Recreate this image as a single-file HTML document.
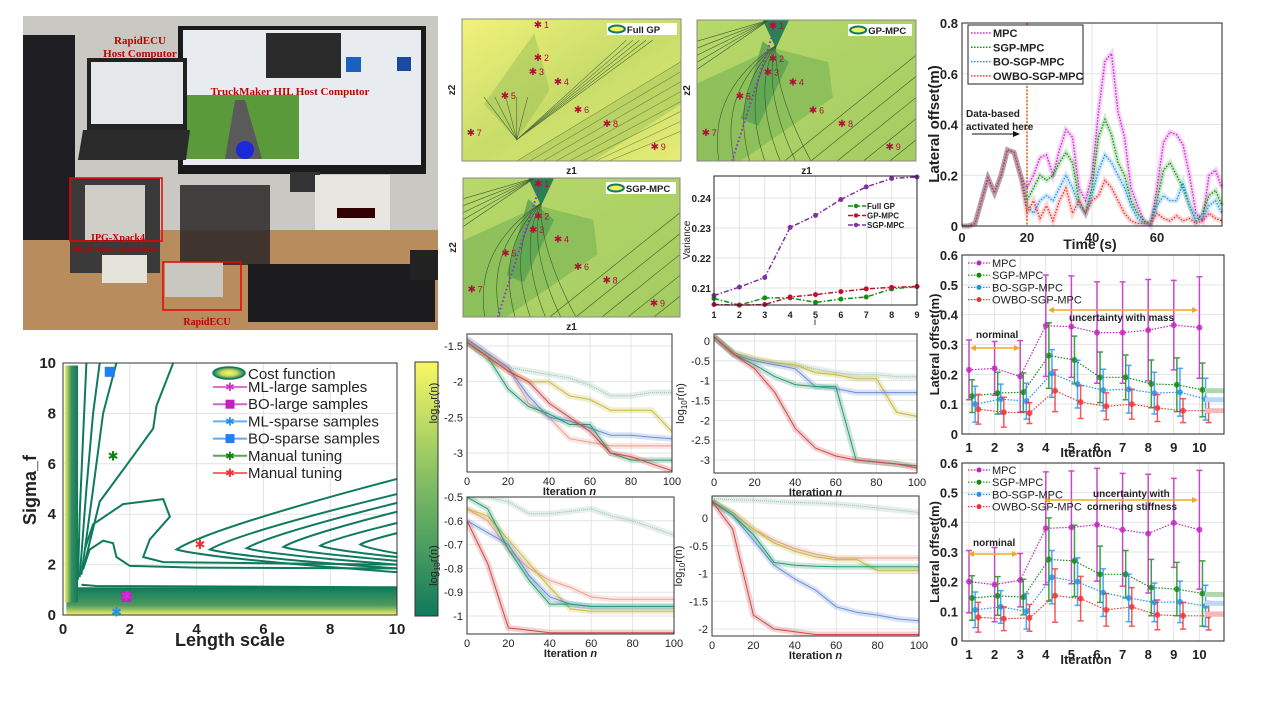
<!DOCTYPE html>
<html><head><meta charset="utf-8"><style>
html,body{margin:0;padding:0;background:#fff;}
svg{display:block;font-family:"Liberation Sans",sans-serif;}
</style></head><body>
<svg id="fig" width="1280" height="720" viewBox="0 0 1280 720" xmlns="http://www.w3.org/2000/svg">
<defs>
<linearGradient id="gBand" x1="0" y1="1" x2="0" y2="0"><stop offset="0" stop-color="#f4f46a"/><stop offset="0.35" stop-color="#4f9a60"/><stop offset="1" stop-color="#0d7a5a"/></linearGradient>
<linearGradient id="gVBand" x1="0" y1="0" x2="1" y2="0"><stop offset="0" stop-color="#f4f46a"/><stop offset="0.5" stop-color="#3a9060"/><stop offset="1" stop-color="#0d7a5a"/></linearGradient>
<linearGradient id="gCbar" x1="0" y1="1" x2="0" y2="0"><stop offset="0" stop-color="#0f7a5c"/><stop offset="0.5" stop-color="#7cba64"/><stop offset="1" stop-color="#f8f864"/></linearGradient>
<linearGradient id="gA" x1="0" y1="0" x2="1" y2="1"><stop offset="0" stop-color="#f2f27a"/><stop offset="0.5" stop-color="#c8dc6a"/><stop offset="1" stop-color="#e4ec74"/></linearGradient>
<linearGradient id="gB" x1="0" y1="0" x2="1" y2="1"><stop offset="0" stop-color="#b8d86a"/><stop offset="1" stop-color="#a4cc62"/></linearGradient>
<radialGradient id="gEll"><stop offset="0" stop-color="#f8f860"/><stop offset="0.5" stop-color="#c8d860"/><stop offset="1" stop-color="#107a5a"/></radialGradient>
</defs>

<!-- PHOTO -->
<g>
<rect x="23" y="16" width="415" height="314" fill="#c9c8c2"/>
<rect x="23" y="230" width="415" height="100" fill="#b98c5e"/>
<rect x="23" y="35" width="52" height="205" fill="#1e1e22"/>
<rect x="178" y="26" width="248" height="148" fill="#1a1a1a"/>
<rect x="183" y="30" width="238" height="135" fill="#e8ecf0"/>
<rect x="266" y="33" width="75" height="45" fill="#2a2a2a"/>
<rect x="186" y="95" width="113" height="64" fill="#5a9a3a"/>
<polygon points="225,159 235,100 245,100 262,159" fill="#5a5a5a"/>
<circle cx="245" cy="150" r="9" fill="#1a2ad8"/>
<rect x="346" y="57" width="15" height="15" fill="#1a60c0"/>
<rect x="397" y="57" width="14" height="14" fill="#1a4aa0"/>
<rect x="290" y="172" width="30" height="20" fill="#333"/>
<rect x="87" y="58" width="100" height="72" fill="#222"/>
<rect x="91" y="62" width="92" height="62" fill="#e4e8ea"/>
<polygon points="83,130 190,130 186,160 78,160" fill="#2a2a2a"/>
<rect x="70" y="178" width="90" height="95" fill="#3a3a3a"/>
<rect x="85" y="185" width="60" height="55" fill="#cfcfc8"/>
<rect x="315" y="175" width="75" height="55" fill="#e8e6e0"/>
<rect x="337" y="208" width="38" height="10" fill="#300"/>
<rect x="180" y="185" width="90" height="80" fill="#2a2626" opacity="0.85"/>
<rect x="165" y="262" width="58" height="35" fill="#c8c8c0"/>
<rect x="102" y="255" width="45" height="28" fill="#e4e4da"/>
<rect x="248" y="264" width="187" height="58" fill="#1c1c1e"/>
<rect x="410" y="250" width="28" height="30" fill="#222"/>
<rect x="70" y="178" width="92" height="63" fill="none" stroke="#e00" stroke-width="1.5"/>
<rect x="163" y="262" width="78" height="48" fill="none" stroke="#e00" stroke-width="1.5"/>
<text x="140" y="44" font-family="Liberation Serif" font-weight="bold" font-size="11" fill="#c00000" text-anchor="middle">RapidECU</text>
<text x="140" y="57" font-family="Liberation Serif" font-weight="bold" font-size="11" fill="#c00000" text-anchor="middle">Host Computor</text>
<text x="290" y="95" font-family="Liberation Serif" font-weight="bold" font-size="11" fill="#c00000" text-anchor="middle">TruckMaker HIL Host Computor</text>
<text x="118" y="241" font-family="Liberation Serif" font-weight="bold" font-size="10" fill="#c00000" text-anchor="middle">IPG-Xpack4</text>
<text x="116" y="252" font-family="Liberation Serif" font-weight="bold" font-size="10" fill="#c00000" text-anchor="middle">Real-time simulator</text>
<text x="207" y="325" font-family="Liberation Serif" font-weight="bold" font-size="10" fill="#c00000" text-anchor="middle">RapidECU</text>
</g>

<g id="layer"></g>
</svg>
<script>
const NS="http://www.w3.org/2000/svg";
const root=document.getElementById('layer');
function mk(tag,attrs,parent){const e=document.createElementNS(NS,tag);for(const k in attrs)e.setAttribute(k,attrs[k]);(parent||root).appendChild(e);return e;}
function txt(x,y,s,size,opt){const o=Object.assign({x:x,y:y,'font-size':size,fill:'#222'},opt||{});const t=mk('text',o);t.textContent=s;return t;}

/* ========== DATA ========== */
// Bottom-left hyper-parameter contour
const hpMarkerNames=["ML-large samples","BO-large samples","ML-sparse samples","BO-sparse samples","Manual tuning","Manual tuning"];
const hpMarkerX=[1.9,1.9,1.6,1.4,1.5,4.1];
const hpMarkerY=[0.75,0.72,0.12,9.65,6.3,2.8];
const hpMarkerColor=["#d030d0","#c020c0","#2090f0","#2080f0","#108010","#f03030"];
const hpMarkerShape=["star","square","star","square","star","star"];
const hpXTicks=[0,2,4,6,8,10];
const hpYTicks=[0,2,4,6,8,10];
const hpNestTipX=[3.4,4.4,5.5,6.6,7.7,8.9];
const hpNestTop=[5.4,4.8,4.45,4.1,3.65,3.25];
const hpNestBot=[1.7,1.85,2.0,2.15,2.3,2.45];
const hpNestMid=[2.6,2.6,2.65,2.7,2.75,2.8];

// Time series (t every 2 s)
const tsTime=[0,2,4,6,8,10,12,14,16,18,20,22,24,26,28,30,32,34,36,38,40,42,44,46,48,50,52,54,56,58,60,62,64,66,68,70,72,74,76,78,80];
const tsMPC=[0,0,0.01,0.1,0.19,0.13,0.2,0.3,0.29,0.2,0.15,0.2,0.27,0.28,0.2,0.3,0.38,0.35,0.15,0.1,0.2,0.45,0.65,0.68,0.45,0.35,0.15,0.08,0.02,0,0.15,0.33,0.37,0.36,0.32,0.2,0.05,0.02,0.2,0.22,0.15];
const tsSGP=[0,0,0.01,0.1,0.19,0.13,0.2,0.3,0.29,0.2,0.1,0.15,0.2,0.18,0.2,0.25,0.29,0.25,0.1,0.05,0.15,0.35,0.42,0.36,0.25,0.2,0.1,0.05,0.02,0.01,0.1,0.22,0.25,0.2,0.15,0.08,0.02,0.05,0.12,0.14,0.08];
const tsBO=[0,0,0.01,0.1,0.19,0.13,0.2,0.3,0.29,0.2,0.08,0.05,0.1,0.12,0.1,0.15,0.2,0.15,0.08,0.05,0.12,0.22,0.28,0.25,0.2,0.15,0.08,0.03,0.01,0.01,0.08,0.12,0.1,0.1,0.17,0.08,0.02,0.03,0.08,0.1,0.05];
const tsOWBO=[0,0,0.01,0.1,0.19,0.13,0.2,0.3,0.29,0.2,0.05,0.1,0.03,0.08,0.02,0.1,0.15,0.05,0.1,0.05,0.1,0.12,0.18,0.15,0.1,0.05,0.02,0.01,0.01,0.01,0.05,0.03,0.02,0.04,0.02,0.03,0.01,0.02,0.05,0.03,0.02];
const tsXTicks=[0,20,40,60];
const tsYTicks=[0,0.2,0.4,0.6,0.8];

// Error bar plots
const ebIter=[1,2,3,4,5,6,7,8,9,10];
const eb1MPC=[0.215,0.22,0.193,0.363,0.36,0.34,0.34,0.348,0.365,0.357];
const eb1MPCerr=[0.1,0.09,0.12,0.17,0.17,0.17,0.17,0.17,0.15,0.17];
const eb1SGP=[0.127,0.137,0.14,0.263,0.248,0.19,0.19,0.168,0.165,0.148];
const eb1SGPerr=[0.055,0.07,0.065,0.11,0.08,0.085,0.075,0.08,0.09,0.09];
const eb1BO=[0.1,0.117,0.11,0.203,0.167,0.147,0.15,0.137,0.14,0.117];
const eb1BOerr=[0.06,0.05,0.06,0.08,0.08,0.07,0.08,0.07,0.08,0.07];
const eb1OWBO=[0.083,0.073,0.07,0.145,0.107,0.093,0.1,0.087,0.078,0.078];
const eb1OWBOerr=[0.05,0.05,0.035,0.07,0.055,0.045,0.05,0.045,0.04,0.04];
const eb2MPC=[0.2,0.19,0.205,0.38,0.383,0.392,0.375,0.362,0.398,0.375];
const eb2MPCerr=[0.105,0.125,0.09,0.19,0.19,0.19,0.19,0.2,0.15,0.2];
const eb2SGP=[0.145,0.152,0.148,0.275,0.27,0.225,0.225,0.18,0.175,0.16];
const eb2SGPerr=[0.075,0.065,0.06,0.14,0.12,0.095,0.08,0.095,0.09,0.11];
const eb2BO=[0.105,0.115,0.1,0.215,0.2,0.163,0.145,0.13,0.132,0.118];
const eb2BOerr=[0.06,0.055,0.06,0.09,0.08,0.08,0.08,0.065,0.07,0.07];
const eb2OWBO=[0.08,0.075,0.078,0.153,0.143,0.105,0.115,0.088,0.085,0.085];
const eb2OWBOerr=[0.05,0.04,0.045,0.09,0.075,0.055,0.065,0.05,0.045,0.048];
const ebYTicks=[0,0.1,0.2,0.3,0.4,0.5,0.6];

// Variance plot
const varI=[1,2,3,4,5,6,7,8,9];
const varFull=[0.2065,0.2043,0.2067,0.2067,0.2052,0.2063,0.207,0.2097,0.2105];
const varGP=[0.2045,0.2043,0.2045,0.207,0.2078,0.2088,0.2097,0.2102,0.2105];
const varSGP=[0.2075,0.2103,0.2135,0.2302,0.2342,0.2395,0.2437,0.2465,0.247];
const varYTicks=[0.21,0.22,0.23,0.24];

// Convergence plots (value every 10 iterations)
const cvIter=[0,10,20,30,40,50,60,70,80,90,100];
const cv1Teal=[-1.45,-1.65,-2.1,-2.35,-2.45,-2.6,-2.6,-3.0,-3.1,-3.1,-3.1];
const cv1Yellow=[-1.45,-1.65,-1.85,-2.0,-2.0,-2.2,-2.25,-2.4,-2.4,-2.4,-2.7];
const cv1Blue=[-1.4,-1.6,-1.8,-2.2,-2.5,-2.55,-2.65,-2.75,-2.75,-2.78,-2.8];
const cv1Red=[-1.45,-1.65,-1.85,-2.0,-2.3,-2.5,-2.7,-3.0,-3.05,-3.15,-3.25];
const cv1Grey=[-1.45,-1.7,-1.8,-1.85,-1.9,-1.95,-2.05,-2.2,-2.2,-2.15,-2.15];
const cv1Pink=[-1.4,-1.6,-1.8,-2.3,-2.5,-2.8,-2.85,-2.9,-2.9,-2.9,-2.9];
const cv1YTicks=[-3,-2.5,-2,-1.5];
const cv2Grey=[0.1,-0.3,-0.45,-0.55,-0.6,-0.7,-0.8,-0.85,-0.85,-0.9,-0.9];
const cv2Yellow=[0.1,-0.3,-0.45,-0.55,-0.6,-0.8,-0.85,-0.95,-0.95,-1.8,-1.9];
const cv2Blue=[0.1,-0.35,-0.5,-0.6,-0.7,-1.15,-1.2,-1.3,-1.3,-1.3,-1.3];
const cv2Teal=[0.1,-0.35,-0.6,-0.9,-1.1,-1.15,-1.15,-3.0,-3.05,-3.1,-3.15];
const cv2Red=[0.1,-0.35,-0.7,-1.3,-2.2,-2.7,-2.9,-3.0,-3.05,-3.1,-3.2];
const cv2YTicks=[-3,-2.5,-2,-1.5,-1,-0.5,0];
const cv3Grey=[-0.5,-0.5,-0.52,-0.57,-0.57,-0.56,-0.55,-0.58,-0.6,-0.63,-0.66];
const cv3Yellow=[-0.55,-0.58,-0.68,-0.78,-0.88,-0.97,-0.98,-0.98,-0.98,-0.98,-0.98];
const cv3Blue=[-0.6,-0.65,-0.7,-0.83,-0.92,-0.95,-0.96,-0.96,-0.96,-0.96,-0.96];
const cv3Teal=[-0.5,-0.55,-0.72,-0.85,-0.95,-0.95,-0.96,-0.96,-0.96,-0.96,-0.96];
const cv3Red=[-0.6,-0.78,-1.05,-1.06,-1.07,-1.07,-1.07,-1.07,-1.07,-1.07,-1.07];
const cv3Pink=[-0.55,-0.6,-0.72,-0.8,-0.85,-0.88,-0.92,-0.93,-0.93,-0.93,-0.93];
const cv3YTicks=[-1,-0.9,-0.8,-0.7,-0.6,-0.5];
const cv4Grey=[0.35,0.33,0.32,0.3,0.28,0.27,0.25,0.22,0.18,0.14,0.1];
const cv4Pink=[0.3,0.1,-0.2,-0.4,-0.55,-0.65,-0.72,-0.72,-0.72,-0.72,-0.72];
const cv4Teal=[0.3,0.05,-0.3,-0.8,-0.85,-0.87,-0.88,-0.88,-0.88,-0.88,-0.88];
const cv4Blue=[0.3,0.05,-0.4,-0.85,-1.1,-1.3,-1.6,-1.7,-1.75,-1.82,-1.85];
const cv4Red=[0.3,-0.2,-1.75,-2.0,-2.05,-2.1,-2.1,-2.1,-2.1,-2.1,-2.1];
const cv4Yellow=[0.3,0.1,-0.2,-0.45,-0.6,-0.7,-0.75,-0.75,-0.95,-0.95,-0.95];
const cv4YTicks=[-2,-1.5,-1,-0.5,0];
const cvXTicks=[0,20,40,60,80,100];

// Sample point positions on z1/z2 maps (normalized)
const zLabels=["1","2","3","4","5","6","7","8","9"];
const zU=[0.347,0.347,0.324,0.438,0.196,0.53,0.04,0.662,0.88];
const zV=[0.035,0.268,0.366,0.437,0.535,0.634,0.796,0.732,0.894];

/* ========== BOTTOM-LEFT HYPERPARAMETER CONTOUR ========== */
(function(){
 const L=63,R=397,T=363,B=615;
 const sx=v=>L+(v/10)*(R-L), sy=v=>B-(v/10)*(B-T);
 const g=mk('g',{});
 
 
 mk('rect',{x:L,y:T,width:R-L,height:B-T,fill:'#fff'},g);
 hpXTicks.forEach(v=>{mk('line',{x1:sx(v),x2:sx(v),y1:T,y2:B,stroke:'#e2e2e2'},g);});
 hpYTicks.forEach(v=>{mk('line',{x1:L,x2:R,y1:sy(v),y2:sy(v),stroke:'#e2e2e2'},g);});
 const band=mk('rect',{x:sx(0.1),y:sy(1.1),width:sx(10)-sx(0.1),height:sy(0)-sy(1.1),fill:'url(#gBand)'},g);
 
 
 const vb=mk('rect',{x:sx(0.05),y:sy(9.9),width:sx(0.45)-sx(0.05),height:sy(0.5)-sy(9.9),fill:'url(#gVBand)'},g);
 
 
 const cs={fill:'none',stroke:'#0f7a5c','stroke-width':2};
 const P=pts=>pts.map((p,i)=>(i?'L':'M')+sx(p[0]).toFixed(1)+','+sy(p[1]).toFixed(1)).join(' ');
 [[[0.45,1.4],[0.5,4],[0.6,7],[0.7,10]],[[0.5,1.5],[0.7,5],[0.9,8],[1.1,10]],[[0.55,1.6],[0.9,5],[1.2,8],[1.6,10]],
  [[0.6,1.8],[1.1,4.5],[2.1,6.3],[2.7,7.4],[2.8,8.3],[3.3,10]],[[0.55,1.2],[1.0,1.15],[10,1.1]],
  [[10,1.85],[4,1.88],[2,1.95],[1.6,2.3],[1.5,2.85],[1.2,2.95],[0.8,2.6],[0.6,1.8]],
  [[10,2.0],[3,2.1],[2.4,2.3],[2.6,3.0],[3.2,3.9],[3.0,4.6],[1.8,4.4],[0.9,3.6],[0.65,2.6]]]
 .forEach((c,i)=>{const p=mk('path',Object.assign({d:P(c)},cs),g);
 
 });
 hpNestTipX.forEach((x0,i)=>{const d='M'+sx(10)+','+sy(hpNestTop[i])+' Q'+sx(x0+ (10-x0)*0.15)+','+sy(hpNestMid[i]+(hpNestTop[i]-hpNestMid[i])*0.3)+' '+sx(x0)+','+sy(hpNestMid[i])+' Q'+sx(x0+(10-x0)*0.15)+','+sy(hpNestMid[i]-(hpNestMid[i]-hpNestBot[i])*0.4)+' '+sx(10)+','+sy(hpNestBot[i]);
 const p=mk('path',Object.assign({d:d},cs),g);
 
 });
 mk('rect',{x:L,y:T,width:R-L,height:B-T,fill:'none',stroke:'#333','stroke-width':1},g);
 hpXTicks.forEach(v=>{const t=txt(sx(v),634,String(v),15,{'text-anchor':'middle','font-weight':'bold'},g);
 
 });
 hpYTicks.forEach(v=>{const t=txt(L-7,sy(v)+5,String(v),15,{'text-anchor':'end','font-weight':'bold'},g);
 
 });
 const xl=txt(230,646,'Length scale',18,{'text-anchor':'middle','font-weight':'bold'},g);
 
 
 const yl=txt(0,0,'Sigma_f',18,{'text-anchor':'middle','font-weight':'bold',transform:'translate(36,490) rotate(-90)'},g);
 
 
 function marker(x,y,shape,col,size){ if(shape==='square') return mk('rect',{x:x-size,y:y-size,width:2*size,height:2*size,fill:col},g);
  return txt(x,y+size*0.9,'✱',size*2.6,{'text-anchor':'middle',fill:col},g);}
 hpMarkerX.forEach((v,i)=>{const m=marker(sx(v),sy(hpMarkerY[i]),hpMarkerShape[i],hpMarkerColor[i],5);
 
 });
 // legend
 const lg=mk('g',{},g);
 
 
 mk('ellipse',{cx:229,cy:373,rx:16,ry:6,fill:'url(#gEll)',stroke:'#0f7a5c','stroke-width':1.5},lg);
 txt(248,379,'Cost function',15,{},lg);
 hpMarkerNames.forEach((n,i)=>{const y=392+i*17.2;
 mk('line',{x1:213,x2:247,y1:y-5,y2:y-5,stroke:hpMarkerColor[i],'stroke-width':2,opacity:0.7},lg);
 marker(230,y-5,hpMarkerShape[i],hpMarkerColor[i],4.5);
 const t=txt(248,y,n,15,{},lg);
 
 });
 const cb=mk('rect',{x:415,y:362,width:23,height:254,fill:'url(#gCbar)',stroke:'#333'},g);
 
 
})();

/* ========== Z1/Z2 MAPS ========== */
function zmap(L,T,W,H,name,label,style,showPath){
 const g=mk('g',{});
 
 
 const sx=u=>L+u*W, sy=v=>T+v*H;
 mk('rect',{x:L,y:T,width:W,height:H,fill:style==='A'?'url(#gA)':'url(#gB)'},g);
 if(style==='A'){
  mk('polygon',{points:`${sx(0.25)},${sy(1)} ${sx(1)},${sy(0.3)} ${sx(1)},${sy(0.6)} ${sx(0.6)},${sy(1)}`,fill:'#b4d060',opacity:0.8},g);
  for(let k=0;k<8;k++){mk('line',{x1:sx(0.25+k*0.06),y1:sy(1),x2:sx(1),y2:sy(0.3+k*0.07),stroke:'#4a6a3a','stroke-width':0.6,opacity:0.7},g);}
  mk('polygon',{points:`${sx(0.33)},${sy(0.1)} ${sx(0.4)},${sy(0.5)} ${sx(0.25)},${sy(0.85)} ${sx(0.1)},${sy(0.6)}`,fill:'#9cc058',opacity:0.5},g);
  for(let k=0;k<5;k++){mk('polyline',{points:`${sx(0.1+k*0.05)},${sy(0.55)} ${sx(0.25)},${sy(0.85)} ${sx(0.75+k*0.03)},${sy(0.15)}`,fill:'none',stroke:'#4a6a3a','stroke-width':0.6},g);}
 } else {
  mk('polygon',{points:`${sx(0)},${sy(0.45)} ${sx(0.35)},${sy(0.2)} ${sx(0.6)},${sy(0.3)} ${sx(0.62)},${sy(0.55)} ${sx(0.2)},${sy(1)} ${sx(0)},${sy(1)}`,fill:'#84bc58',opacity:0.8},g);
  mk('polygon',{points:`${sx(0.3)},${sy(0.15)} ${sx(0.42)},${sy(0.3)} ${sx(0.28)},${sy(0.75)} ${sx(0.2)},${sy(0.7)}`,fill:'#58a050',opacity:0.8},g);
  mk('polygon',{points:`${sx(0.3)},${sy(0)} ${sx(0.42)},${sy(0)} ${sx(0.36)},${sy(0.2)}`,fill:'#2a8050'},g);
  for(let k=0;k<7;k++){mk('path',{d:`M${sx(0.36)},${sy(0.18)} Q${sx(0.05+k*0.05)},${sy(0.5)} ${sx(0.1+k*0.07)},${sy(1)}`,fill:'none',stroke:'#3a5a30','stroke-width':0.6},g);}
  for(let k=0;k<5;k++){mk('line',{x1:sx(0.4+k*0.12),y1:sy(1),x2:sx(1),y2:sy(0.25+k*0.15),stroke:'#3a5a30','stroke-width':0.6},g);
   mk('line',{x1:sx(0),y1:sy(0.15+k*0.05),x2:sx(0.33),y2:sy(0),stroke:'#3a5a30','stroke-width':0.6},g);}
 }
 if(showPath){const p=mk('line',{x1:sx(0.16),y1:sy(1),x2:sx(0.36),y2:sy(0.03),stroke:'#9030c0','stroke-width':2,'stroke-dasharray':'1.5,2.5'},g);
 
 }
 mk('rect',{x:L,y:T,width:W,height:H,fill:'none',stroke:'#888'},g);
 zU.forEach((u,i)=>{const m=txt(sx(u),sy(zV[i])+4,'✱',10,{'text-anchor':'middle',fill:'#b0103a'},g);
 
 
 txt(sx(u)+6,sy(zV[i])+4,zLabels[i],9,{fill:'#b0103a'},g);});
 const lw=label.length*6.3+26;
 const lg=mk('g',{},g);
 
 
 mk('rect',{x:L+W-lw-4,y:T+4,width:lw,height:12,fill:'#fff'},lg);
 mk('ellipse',{cx:L+W-lw+6,cy:T+10,rx:8,ry:3.5,fill:'#f0f060',stroke:'#0f7a5c','stroke-width':2},lg);
 txt(L+W-lw+16,T+14,label,9.5,{'font-weight':'bold'},lg);
 const z1=txt(L+W/2,T+H+13,'z1',10,{'text-anchor':'middle','font-weight':'bold'},g);
 
 
 const z2=txt(0,0,'z2',10,{'text-anchor':'middle','font-weight':'bold',transform:`translate(${L-7},${T+H/2}) rotate(-90)`},g);
 
 
}
zmap(462,19,219,142,'full-gp-map','Full GP','A',false);
zmap(697,20,219,141,'gp-mpc-map','GP-MPC','B',true);
zmap(463,178,217,139,'sgp-mpc-map','SGP-MPC','B',true);

/* ========== VARIANCE PLOT ========== */
(function(){
 const L=714,R=917,T=176,B=305;
 const sx=i=>L+(i-1)/8*(R-L), sy=v=>288-(v-0.21)*3000;
 const g=mk('g',{});
 
 
 mk('rect',{x:L,y:T,width:R-L,height:B-T,fill:'#fff'},g);
 varI.forEach(i=>{mk('line',{x1:sx(i),x2:sx(i),y1:T,y2:B,stroke:'#e4e4e4'},g);
 const t=txt(sx(i),318,String(i),9,{'text-anchor':'middle','font-weight':'bold'},g);
 
 });
 varYTicks.forEach(v=>{mk('line',{x1:L,x2:R,y1:sy(v),y2:sy(v),stroke:'#e4e4e4'},g);
 const t=txt(L-3,sy(v)+4,v.toFixed(2),10,{'text-anchor':'end','font-weight':'bold'},g);
 
 });
 const ser=[[varFull,'#109010','Full GP'],[varGP,'#c01030','GP-MPC'],[varSGP,'#8030a0','SGP-MPC']];
 ser.forEach((s,k)=>{const pts=s[0].map((v,j)=>sx(varI[j])+','+sy(v)).join(' ');
 const l=mk('polyline',{points:pts,fill:'none',stroke:s[1],'stroke-width':1.5,'stroke-dasharray':'5,2,1.5,2'},g);
 
 
 s[0].forEach((v,j)=>{const m=mk('circle',{cx:sx(varI[j]),cy:sy(v),r:2.5,fill:s[1]},g);
 
 });
 mk('line',{x1:848,x2:866,y1:206+k*9.5,y2:206+k*9.5,stroke:s[1],'stroke-width':1.5,'stroke-dasharray':'5,2'},g);
 mk('circle',{cx:856,cy:206+k*9.5,r:2.2,fill:s[1]},g);
 const t=txt(867,209+k*9.5,s[2],8,{'font-weight':'bold'},g);
 
 });
 mk('rect',{x:L,y:T,width:R-L,height:B-T,fill:'none',stroke:'#222'},g);
 txt(0,0,'Variance',10,{'text-anchor':'middle',transform:'translate(690,240) rotate(-90)'},g);
 txt(815,325,'i',10,{'text-anchor':'middle'},g);
})();

/* ========== CONVERGENCE PLOTS ========== */
function conv(L,R,T,B,y0,v0,y1,v1,ticks,series,fmt,name){
 const g=mk('g',{});
 
 
 const sx=n=>L+n/100*(R-L), sy=v=>y0+(v-v0)*(y1-y0)/(v1-v0);
 mk('rect',{x:L,y:T,width:R-L,height:B-T,fill:'#fff'},g);
 cvXTicks.forEach(n=>{mk('line',{x1:sx(n),x2:sx(n),y1:T,y2:B,stroke:'#e4e4e4'},g);
 const t=txt(sx(n),B+13,String(n),11,{'text-anchor':'middle'},g);
 
 });
 ticks.forEach(v=>{mk('line',{x1:L,x2:R,y1:sy(v),y2:sy(v),stroke:'#e4e4e4'},g);
 const t=txt(L-4,sy(v)+4,fmt(v),11,{'text-anchor':'end'},g);
 
 });
 const clip='c'+name;
 const cp=mk('clipPath',{id:clip},g);mk('rect',{x:L,y:T,width:R-L,height:B-T},cp);
 const sg=mk('g',{'clip-path':`url(#${clip})`},g);
 series.forEach(s=>{const pts=s[0].map((v,j)=>sx(cvIter[j]).toFixed(1)+','+sy(v).toFixed(1)).join(' ');
 const b=mk('polyline',{points:pts,fill:'none',stroke:s[1],'stroke-width':6,opacity:0.25},sg);
 
 
 const l=mk('polyline',{points:pts,fill:'none',stroke:s[1],'stroke-width':1,'stroke-dasharray':s[2]||'none'},sg);
 
 });
 mk('rect',{x:L,y:T,width:R-L,height:B-T,fill:'none',stroke:'#333'},g);
 const xl=txt((L+R)/2,B+23,'Iteration ',11,{'text-anchor':'middle','font-weight':'bold'},g);
 const it=mk('tspan',{'font-style':'italic'},xl);it.textContent='n';
 
 
 const yl=txt(0,0,'log',11,{'text-anchor':'middle',transform:`translate(${L-30},${(T+B)/2}) rotate(-90)`},g);
 const s1=mk('tspan',{'font-size':8,dy:3},yl);s1.textContent='10';
 const s2=mk('tspan',{dy:-3},yl);s2.textContent='r(n)';
 
 
}
const cT='#2a9a70',cY='#c8b840',cB='#6a8ed8',cR='#d04848',cG='#98c0a8',cP='#e8a090';
const f1=v=>String(v), f2=v=>v===0?'0':String(v);
conv(467,672,334,472,346,-1.5,453,-3,cv1YTicks,[[cv1Grey,cG,'1,1'],[cv1Pink,cP],[cv1Yellow,cY],[cv1Blue,cB],[cv1Teal,cT],[cv1Red,cR]],f1,'convergence-plot-1');
conv(714,917,334,473,341,0,460,-3,cv2YTicks,[[cv2Grey,cG,'1,1'],[cv2Yellow,cY],[cv2Blue,cB],[cv2Teal,cT],[cv2Red,cR]],f2,'convergence-plot-2');
conv(467,674,497,634,497,-0.5,616,-1,cv3YTicks,[[cv3Grey,cG,'1,1'],[cv3Pink,cP],[cv3Yellow,cY],[cv3Blue,cB],[cv3Teal,cT],[cv3Red,cR]],f1,'convergence-plot-3');
conv(712,919,496,636,518,0,629,-2,cv4YTicks,[[cv4Grey,cG,'1,1'],[cv4Pink,cP],[cv4Yellow,cY],[cv4Blue,cB],[cv4Teal,cT],[cv4Red,cR]],f2,'convergence-plot-4');

/* ========== TIME SERIES ========== */
(function(){
 const L=962,R=1222,T=23,B=226;
 const sx=t=>L+t/80*(R-L), sy=v=>B-v/0.8*(B-T);
 const g=mk('g',{});
 
 
 mk('rect',{x:L,y:T,width:R-L,height:B-T,fill:'#fff'},g);
 tsXTicks.forEach(v=>{mk('line',{x1:sx(v),x2:sx(v),y1:T,y2:B,stroke:'#e4e4e4'},g);
 const t=txt(sx(v),242,String(v),13,{'text-anchor':'middle','font-weight':'bold'},g);
 
 });
 tsYTicks.forEach(v=>{mk('line',{x1:L,x2:R,y1:sy(v),y2:sy(v),stroke:'#e4e4e4'},g);
 const t=txt(L-4,sy(v)+5,v===0?'0':v.toFixed(1),13,{'text-anchor':'end','font-weight':'bold'},g);
 
 });
 const ser=[[tsMPC,'#d020d0','MPC'],[tsSGP,'#109010','SGP-MPC'],[tsBO,'#2090f0','BO-SGP-MPC'],[tsOWBO,'#f03030','OWBO-SGP-MPC']];
 ser.forEach(s=>{const pts=s[0].map((v,j)=>sx(tsTime[j]).toFixed(1)+','+sy(v).toFixed(1)).join(' ');
 const b=mk('polyline',{points:pts,fill:'none',stroke:s[1],'stroke-width':5,opacity:0.2},g);
 
 
 const l=mk('polyline',{points:pts,fill:'none',stroke:s[1],'stroke-width':1.3,'stroke-dasharray':'1.5,1.5'},g);
 
 });
 const vl=mk('line',{x1:sx(20),x2:sx(20),y1:T,y2:B,stroke:'#e06010','stroke-width':1.5,'stroke-dasharray':'2,1.5'},g);
 
 
 txt(966,117,'Data-based',10,{'font-weight':'bold'},g);
 txt(966,130,'activated here',10,{'font-weight':'bold'},g);
 mk('line',{x1:972,x2:1016,y1:134,y2:134,stroke:'#111'},g);
 mk('polygon',{points:'1020,134 1013,131 1013,137',fill:'#111'},g);
 mk('rect',{x:L,y:T,width:R-L,height:B-T,fill:'none',stroke:'#222'},g);
 const lg=mk('g',{},g);
 
 
 mk('rect',{x:968,y:25,width:115,height:59,fill:'#fff',stroke:'#222'},lg);
 ser.forEach((s,k)=>{const y=33+k*14.3;
 mk('line',{x1:971,x2:991,y1:y,y2:y,stroke:s[1],'stroke-width':1.5,'stroke-dasharray':'1.5,1.5'},lg);
 const t=txt(993,y+4,s[2],11,{'font-weight':'bold'},lg);
 
 });
 const yl=txt(0,0,'Lateral offset(m)',15,{'text-anchor':'middle','font-weight':'bold',transform:'translate(939,124) rotate(-90)'},g);
 
 
 const xl=txt(1090,249,'Time (s)',14,{'text-anchor':'middle','font-weight':'bold'},g);
 
 
})();

/* ========== ERROR BAR PLOTS ========== */
function ebPlot(T,B,data,name,legY,ann){
 const L=962,R=1224;
 const sx=i=>969+(i-1)*25.6, sy=v=>B-v/0.6*(B-T);
 const g=mk('g',{});
 
 
 mk('rect',{x:L,y:T,width:R-L,height:B-T,fill:'#fff'},g);
 ebIter.forEach(i=>{mk('line',{x1:sx(i),x2:sx(i),y1:T,y2:B,stroke:'#e4e4e4'},g);
 const t=txt(sx(i),B+18,String(i),13,{'text-anchor':'middle','font-weight':'bold'},g);
 
 });
 ebYTicks.forEach(v=>{mk('line',{x1:L,x2:R,y1:sy(v),y2:sy(v),stroke:'#e4e4e4'},g);
 const t=txt(L-4,sy(v)+5,v===0?'0':v.toFixed(1),13,{'text-anchor':'end','font-weight':'bold'},g);
 
 });
 const cols=['#c020c0','#108a10','#2090f0','#f03030'], names=['MPC','SGP-MPC','BO-SGP-MPC','OWBO-SGP-MPC'];
 data.forEach((s,k)=>{const off=k*0.12;
 const pts=s[0].map((v,j)=>sx(ebIter[j]+off).toFixed(1)+','+sy(v).toFixed(1)).join(' ');
 const l=mk('polyline',{points:pts,fill:'none',stroke:cols[k],'stroke-width':1.2,'stroke-dasharray':'1.5,1.5'},g);
 
 
 s[0].forEach((v,j)=>{const x=sx(ebIter[j]+off), e=s[1][j];
 const eb=mk('path',{d:`M${x},${sy(v-e)} V${sy(v+e)} M${x-3},${sy(v-e)} H${x+3} M${x-3},${sy(v+e)} H${x+3}`,stroke:cols[k],'stroke-width':1.5,opacity:0.8,fill:'none'},g);
 
 
 const m=mk('circle',{cx:x,cy:sy(v),r:3,fill:cols[k],opacity:0.8},g);
 
 });
 const y=legY+k*12.2;
 mk('line',{x1:968,x2:990,y1:y,y2:y,stroke:cols[k],'stroke-width':1.2,'stroke-dasharray':'1.5,1.5'},g);
 mk('circle',{cx:979,cy:y,r:2.5,fill:cols[k]},g);
 const t=txt(992,y+4,names[k],11,{},g);
 
 });
 [[0.145,'#b0d8b0'],[0.115,'#b8d8f4'],[0.078,'#f4b8b8']].forEach((c,k)=>{mk('rect',{x:1205,y:sy(c[0]+(name.endsWith('2')?0.012:0))-2.5,width:19,height:5,fill:c[1]},g);});
 mk('rect',{x:L,y:T,width:R-L,height:B-T,fill:'none',stroke:'#222'},g);
 ann(g,sy);
 const yl=txt(0,0,'Lateral offset(m)',13,{'text-anchor':'middle','font-weight':'bold',transform:`translate(939,${(T+B)/2}) rotate(-90)`},g);
 
 
 const xl=txt(1086,B+23,'Iteration',13,{'text-anchor':'middle','font-weight':'bold'},g);
 
 
}
function arrow(g,x1,x2,y){mk('line',{x1:x1+4,x2:x2-4,y1:y,y2:y,stroke:'#f0a820','stroke-width':1.5},g);
 mk('polygon',{points:`${x1},${y} ${x1+6},${y-3} ${x1+6},${y+3}`,fill:'#f0a820'},g);
 mk('polygon',{points:`${x2},${y} ${x2-6},${y-3} ${x2-6},${y+3}`,fill:'#f0a820'},g);}
ebPlot(255,434,[[eb1MPC,eb1MPCerr],[eb1SGP,eb1SGPerr],[eb1BO,eb1BOerr],[eb1OWBO,eb1OWBOerr]],'error-bar-plot-1',263,(g)=>{
 txt(976,338,'norminal',10,{'font-weight':'bold'},g);arrow(g,970,1020,348);
 txt(1069,321,'uncertainty with mass',10,{'font-weight':'bold'},g);arrow(g,1048,1198,310);});
ebPlot(463,641,[[eb2MPC,eb2MPCerr],[eb2SGP,eb2SGPerr],[eb2BO,eb2BOerr],[eb2OWBO,eb2OWBOerr]],'error-bar-plot-2',470,(g)=>{
 txt(973,546,'norminal',10,{'font-weight':'bold'},g);arrow(g,968,1018,554);
 txt(1093,497,'uncertainty with',10,{'font-weight':'bold'},g);
 txt(1087,510,'cornering stiffness',10,{'font-weight':'bold'},g);arrow(g,1044,1198,500);});
</script>
</body></html>
